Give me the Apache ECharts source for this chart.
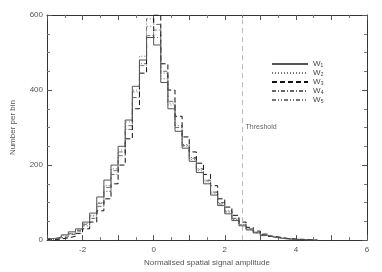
<!DOCTYPE html>
<html>
<head>
<meta charset="utf-8">
<script src="https://cdn.jsdelivr.net/npm/echarts@6/dist/echarts.min.js"></script>
<style>
  html, body { margin: 0; padding: 0; background: #fff; }
  #chart { width: 382px; height: 272px; }
</style>
</head>
<body>
<div id="chart"></div>
<script>
// histogram bins: left edges from -3.0 in steps of 0.2
const binStart = -3.0
const binWidth = 0.2
const seriesNames = ['W₁', 'W₂', 'W₃', 'W₄', 'W₅']

const w1 = [4, 8, 14, 22, 30, 48, 72, 115, 160, 200, 250, 320, 410, 480, 540, 520, 420, 350, 290, 245, 210, 180, 150, 120, 92, 70, 52, 38, 27, 19, 12, 8, 5, 3, 2, 1, 0, 0]
const w2 = [2, 6, 12, 18, 28, 44, 66, 100, 145, 190, 240, 315, 400, 490, 570, 540, 430, 360, 300, 250, 215, 185, 155, 125, 98, 75, 55, 40, 29, 20, 14, 9, 6, 3, 2, 1, 1, 0]
const w3 = [1, 3, 6, 10, 18, 30, 48, 78, 110, 150, 200, 270, 350, 445, 540, 600, 470, 400, 330, 275, 235, 205, 175, 145, 110, 88, 66, 48, 34, 24, 16, 10, 7, 4, 3, 2, 1, 0]
const w4 = [2, 5, 9, 15, 24, 38, 58, 90, 130, 175, 225, 295, 380, 470, 590, 575, 450, 370, 305, 255, 220, 190, 160, 128, 100, 78, 58, 42, 30, 21, 14, 9, 6, 4, 2, 2, 1, 0]
const w5 = [3, 6, 11, 17, 26, 42, 64, 98, 140, 185, 235, 305, 395, 465, 545, 560, 445, 365, 300, 252, 218, 188, 158, 128, 96, 75, 56, 41, 29, 20, 13, 8, 5, 3, 2, 1, 0, 0]

const threshold = 2.5
const thresholdLabelY = 300

// turn counts into step points (left edges + closing right edge)
const toSteps = (counts) => {
  const pts = counts.map((c, i) => [+(binStart + i * binWidth).toFixed(2), c])
  pts.push([+(binStart + counts.length * binWidth).toFixed(2), counts[counts.length - 1]])
  return pts
}

const lineStyles = [
  { color: '#555', type: 'solid', width: 1 },
  { color: '#777', type: [1, 2], width: 1 },
  { color: '#111', type: [5, 3], width: 1 },
  { color: '#666', type: [4, 2, 1, 2], width: 1 },
  { color: '#777', type: [4, 2, 1, 2, 1, 2], width: 1 },
]

const textStyle = { fontFamily: 'Liberation Sans', fontSize: 8, color: '#555' }
const axisLine = { show: true, onZero: false, lineStyle: { color: '#333', width: 1 } }
const tick = { inside: true, length: 5, lineStyle: { color: '#555' } }

const series = [w1, w2, w3, w4, w5].map((d, i) => ({
  name: seriesNames[i],
  type: 'line',
  step: 'end',
  data: toSteps(d),
  symbol: 'none',
  lineStyle: lineStyles[i],
  itemStyle: { color: lineStyles[i].color },
  z: 5 - i,
}))

// threshold line + label
series.push({
  name: 'threshold',
  type: 'line',
  data: [],
  markLine: {
    silent: true,
    symbol: 'none',
    label: { show: false },
    lineStyle: { color: '#bbb', type: [5, 4], width: 1 },
    data: [{ xAxis: threshold }],
  },
  markPoint: {
    silent: true,
    symbol: 'circle',
    symbolSize: 0,
    label: { show: true, position: 'right', distance: 3, formatter: 'Threshold', ...textStyle, fontSize: 7, color: '#666' },
    data: [{ coord: [threshold, thresholdLabelY] }],
  },
})

const chart = echarts.init(document.getElementById('chart'))
chart.setOption({
  animation: false,
  backgroundColor: '#fff',
  grid: { left: 47, right: 15, top: 15, bottom: 30 },
  legend: {
    data: seriesNames,
    orient: 'vertical',
    left: 266,
    top: 55,
    itemWidth: 36,
    itemHeight: 6,
    itemGap: 1,
    itemStyle: { opacity: 0 },
    textStyle: { ...textStyle, fontSize: 8, color: '#444' },
  },
  xAxis: [{
    type: 'value',
    min: -3,
    max: 6,
    interval: 1,
    name: 'Normalised spatial signal amplitude',
    nameLocation: 'middle',
    nameGap: 18,
    nameTextStyle: textStyle,
    axisLine: axisLine,
    axisTick: tick,
    minorTick: { show: true, splitNumber: 2, length: 3, lineStyle: { color: '#777' } },
    axisLabel: { ...textStyle, margin: 6, formatter: v => (v % 2 === 0 ? String(v) : '') },
    splitLine: { show: false },
  }, {
    type: 'value',
    position: 'top',
    min: -3,
    max: 6,
    interval: 1,
    axisLine: axisLine,
    axisTick: tick,
    minorTick: { show: true, splitNumber: 2, length: 3, lineStyle: { color: '#777' } },
    axisLabel: { show: false },
    splitLine: { show: false },
  }],
  yAxis: [{
    type: 'value',
    min: 0,
    max: 600,
    interval: 200,
    name: 'Number per bin',
    nameLocation: 'middle',
    nameGap: 30,
    nameTextStyle: textStyle,
    axisLine: axisLine,
    axisTick: tick,
    minorTick: { show: true, splitNumber: 4, length: 3, lineStyle: { color: '#777' } },
    axisLabel: { ...textStyle, margin: 4 },
    splitLine: { show: false },
  }, {
    type: 'value',
    position: 'right',
    min: 0,
    max: 600,
    interval: 200,
    axisLine: axisLine,
    axisTick: tick,
    minorTick: { show: true, splitNumber: 4, length: 3, lineStyle: { color: '#777' } },
    axisLabel: { show: false },
    splitLine: { show: false },
  }],
  series: series,
})
</script>
</body>
</html>
